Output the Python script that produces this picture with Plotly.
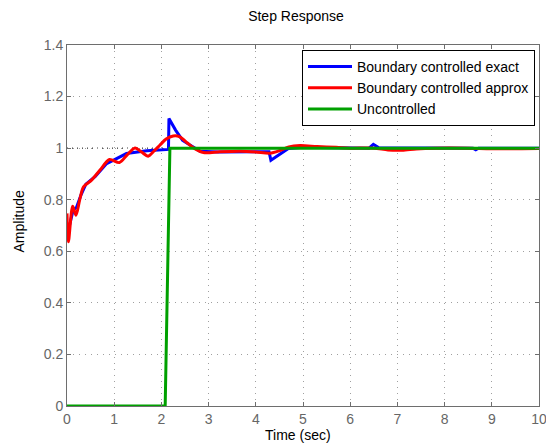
import plotly.graph_objects as go

# Boundary controlled exact
t_exact = [0.0, 0.06, 0.13, 0.2, 0.3, 0.4, 0.6, 0.84, 1.05, 1.26, 1.69, 2.15, 2.16, 2.3, 2.45,
           2.68, 2.82, 3.2, 3.8, 4.28, 4.32, 4.5, 4.69, 5.0, 6.4, 6.49, 6.6, 8.6, 8.66, 8.72, 10.0]
y_exact = [0.66, 0.71, 0.76, 0.77, 0.82, 0.86, 0.89, 0.94, 0.96, 0.979, 0.99, 0.995, 1.115, 1.07, 1.03,
           1.005, 0.988, 0.985, 0.985, 0.986, 0.953, 0.975, 0.999, 1.003, 1.0, 1.015, 1.002, 1.0, 0.994, 1.0, 1.0]

# Boundary controlled approx
t_approx = [0.0, 0.03, 0.12, 0.19, 0.27, 0.35, 0.52, 0.70, 0.90, 1.11, 1.28, 1.44, 1.58, 1.72, 1.85,
            1.97, 2.10, 2.25, 2.39, 2.55, 2.68, 2.89, 3.24, 3.67, 4.0, 4.3, 4.5, 4.7, 4.94, 5.3,
            5.7, 6.0, 6.5, 6.8, 7.1, 7.4, 7.8, 8.5, 9.0, 10.0]
y_approx = [0.747, 0.637, 0.775, 0.74, 0.80, 0.85, 0.876, 0.915, 0.956, 0.944, 0.975, 1.001, 0.985, 0.969, 0.99,
            1.012, 1.035, 1.047, 1.044, 1.02, 1.001, 0.983, 0.986, 0.988, 0.985, 0.98, 0.99, 1.005, 1.01, 1.006,
            1.003, 1.0, 1.0, 0.993, 0.992, 0.997, 1.0, 1.0, 0.998, 0.999]

# Uncontrolled
t_unc = [0.0, 2.08, 2.18, 10.0]
y_unc = [0.0, 0.0, 1.0, 1.0]

x_ticks = [0, 1, 2, 3, 4, 5, 6, 7, 8, 9, 10]
y_ticks = [0, 0.2, 0.4, 0.6, 0.8, 1, 1.2, 1.4]
y_tick_labels = ["0", "0.2", "0.4", "0.6", "0.8", "1", "1.2", "1.4"]

FONT = "Liberation Sans, Arial, Helvetica, sans-serif"
FS = 14

fig = go.Figure()
fig.add_trace(go.Scatter(x=t_exact, y=y_exact, mode="lines", name="Boundary controlled exact",
                         line=dict(color="#0000ff", width=3)))
fig.add_trace(go.Scatter(x=t_approx, y=y_approx, mode="lines", name="Boundary controlled approx",
                         line=dict(color="#ff0000", width=3, shape="spline", smoothing=0.8)))
fig.add_trace(go.Scatter(x=t_unc, y=y_unc, mode="lines", name="Uncontrolled",
                         line=dict(color="#00a000", width=3)))

fig.add_shape(type="line", xref="x", yref="y", x0=0, x1=10, y0=1, y1=1,
              line=dict(color="black", width=1, dash="1px,4px"), layer="below")

axis_common = dict(showgrid=True, gridcolor="#a0a0a0", griddash="1px,5px", gridwidth=1,
                   showline=True, linecolor="#6e6e6e", linewidth=1, mirror="allticks",
                   ticks="inside", ticklen=4, tickcolor="#6e6e6e",
                   tickfont=dict(family=FONT, size=FS, color="#666666"),
                   zeroline=False, ticklabeloverflow="allow", automargin=False)

fig.update_layout(
    width=546, height=445,
    margin=dict(l=67, r=7, t=45, b=39),
    paper_bgcolor="white", plot_bgcolor="white",
    title=dict(text="Step Response", x=(296 - 67) / 472, xref="paper", xanchor="center",
               y=1 - 16.5 / 445, yanchor="middle",
               font=dict(family=FONT, size=FS, color="black")),
    xaxis=dict(range=[0, 10], tickvals=x_ticks, ticktext=[str(v) for v in x_ticks], **axis_common),
    yaxis=dict(range=[0, 1.4], tickvals=y_ticks, ticktext=y_tick_labels, **axis_common),
    legend=dict(x=(302 - 67) / 472, y=(406 - 50) / 361, xanchor="left", yanchor="top",
                bgcolor="white", bordercolor="black", borderwidth=1,
                font=dict(family=FONT, size=FS, color="black"),
                tracegroupgap=0, itemwidth=44),
    showlegend=True,
    annotations=[
        dict(text="Time (sec)", xref="paper", yref="paper", x=(297.5 - 67) / 472, y=(406 - 435) / 361,
             xanchor="center", yanchor="middle", showarrow=False,
             font=dict(family=FONT, size=FS, color="black")),
        dict(text="Amplitude", xref="paper", yref="paper", x=(18 - 67) / 472, y=(406 - 221.5) / 361,
             xanchor="center", yanchor="middle", showarrow=False, textangle=-90,
             font=dict(family=FONT, size=FS, color="black")),
    ],
)

fig.write_html("out.html", config={"displayModeBar": False},
               post_script="document.body.style.margin='0px';document.body.style.overflow='hidden';")
